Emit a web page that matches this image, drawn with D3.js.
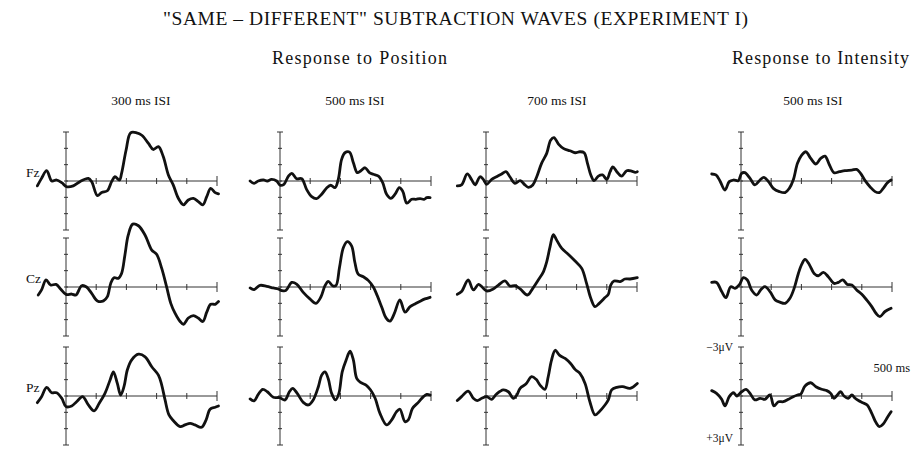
<!DOCTYPE html>
<html>
<head>
<meta charset="utf-8">
<script src="https://cdn.jsdelivr.net/npm/d3@7"></script>
<style>
  body { margin: 0; background: #fff; }
  svg { font-family: 'Liberation Serif', 'Times New Roman', serif; fill: #111; }
  .wave { fill: none; stroke: #111; stroke-width: 2.8; stroke-linejoin: round; stroke-linecap: round; }
  .ax { stroke: #333; stroke-width: 1; }
</style>
</head>
<body>
<div id="container"></div>
<script>
const rows = ['Fz', 'Cz', 'Pz'];
const cols = ['300 ms ISI', '500 ms ISI', '700 ms ISI', '500 ms ISI'];
const groups = ['Response to Position', 'Response to Intensity'];
const xTicks = [0, 100, 200, 300, 400, 500];
const yTicks = [-3, -2, -1, 0, 1, 2, 3];

// waves as [ms, uV], negative is plotted up
const fz300 = [[-95,0.3],[-81,-0.16],[-64,-0.63],[-47,0],[-31,-0.06],[-14,0.1],[2,0.35],[24,0.3],[46,0.04],[74,-0.16],[85,0.04],[104,0.9],[118,0.7],[137,0.6],[151,0.04],[162,-0.26],[177,-0.06],[184,-0.47],[199,-1.9],[214,-2.95],[234,-2.95],[251,-2.8],[273,-2.3],[289,-1.93],[306,-2.1],[322,-1.5],[339,-0.37],[355,0.24],[372,1.06],[389,1.46],[405,1.16],[422,1.06],[438,1.26],[453,1.46],[466,0.96],[479,0.45],[494,0.71],[505,0.79]];
const cz300 = [[-92,0.49],[-81,0.18],[-66,-0.43],[-51,-0.12],[-33,-0.16],[-18,0.12],[0,0.45],[19,0.43],[33,0.49],[52,-0.08],[68,0],[85,0.39],[104,0.85],[124,0.85],[137,0.59],[148,-0.22],[159,-0.57],[173,-0.53],[184,-0.83],[195,-1.95],[206,-3.17],[221,-3.85],[240,-3.75],[262,-3.17],[284,-2.26],[300,-2.0],[317,-1.14],[333,-0.02],[347,1.0],[361,1.6],[378,2.11],[389,2.28],[405,1.9],[422,1.75],[438,1.9],[453,2.11],[466,1.54],[479,1.06],[494,1.06],[505,0.89]];
const pz300 = [[-95,0.41],[-81,0.04],[-64,-0.53],[-47,-0.2],[-31,-0.2],[-14,0.14],[0,0.65],[19,0.61],[35,0.35],[55,0.04],[74,0.55],[93,0.91],[110,0.45],[129,-0.16],[146,-0.98],[157,-1.48],[170,-0.77],[181,-0.06],[192,-0.57],[203,-1.59],[217,-2.2],[240,-2.56],[262,-2.4],[284,-1.79],[306,-1.28],[317,-0.67],[328,0.24],[341,1.16],[355,1.5],[378,1.87],[394,1.77],[411,1.67],[427,1.77],[449,1.91],[464,1.46],[477,0.81],[494,0.69],[505,0.61]];

const fz500 = [[-99,0],[-86,0.14],[-72,0],[-55,-0.06],[-42,0],[-28,-0.1],[-11,0],[0,0.26],[13,0.2],[28,-0.3],[39,-0.47],[55,-0.14],[72,-0.14],[88,0.51],[105,0.96],[121,1.08],[138,0.81],[155,0.41],[168,0.26],[182,0.41],[193,-0.1],[204,-1.32],[215,-1.73],[230,-1.77],[243,-1.12],[256,-0.51],[267,-0.61],[282,-0.81],[296,-0.51],[309,-0.41],[326,-0.3],[340,0.1],[353,0.81],[367,1.06],[381,0.81],[395,0.41],[406,0.61],[420,1.36],[436,1.12],[450,1.12],[464,1.08],[477,1.12],[486,1.02],[497,1.02]];
const cz500 = [[-99,0.06],[-86,0.16],[-66,-0.1],[-44,-0.04],[-22,0.06],[-6,0.12],[6,0.22],[19,0.22],[39,-0.28],[55,-0.18],[77,0.33],[99,0.73],[119,1.0],[135,0.63],[149,-0.08],[160,-0.35],[174,-0.08],[185,-0.08],[197,-1.2],[210,-2.42],[223,-2.78],[237,-2.52],[248,-1.5],[259,-0.79],[276,-0.63],[293,-0.39],[309,0],[322,0.53],[337,1.24],[351,1.89],[364,2.09],[378,1.65],[397,0.79],[414,1.54],[431,1.2],[447,1.04],[464,0.87],[480,0.73],[497,0.63]];
const pz500 = [[-99,0.18],[-86,0.3],[-72,-0.1],[-57,-0.41],[-42,-0.26],[-22,0.08],[-2,0.1],[17,0.24],[31,-0.26],[42,-0.47],[57,-0.16],[77,0.39],[94,0.55],[110,0.24],[127,-0.57],[138,-1.28],[149,-1.48],[160,-1.04],[171,-0.16],[184,0.24],[195,-0.16],[206,-1.48],[219,-2.2],[232,-2.74],[243,-2.2],[254,-1.08],[267,-0.83],[285,-0.67],[300,-0.37],[315,0.14],[331,1.06],[353,1.77],[370,1.46],[386,0.96],[397,0.81],[414,1.57],[425,1.46],[439,0.75],[458,0.39],[475,0.04],[486,-0.1],[497,-0.06]];

const fz700 = [[-95,0.3],[-81,0.24],[-62,-0.43],[-47,-0.06],[-36,0.24],[-20,-0.26],[-9,-0.1],[2,0.2],[19,-0.1],[35,-0.26],[52,-0.43],[66,-0.57],[79,-0.26],[96,0.14],[113,-0.02],[129,0.24],[140,0.39],[155,0.24],[168,-0.26],[184,-1.08],[201,-1.69],[214,-2.5],[225,-2.66],[240,-2.26],[256,-2.0],[278,-1.85],[295,-1.73],[311,-1.79],[325,-1.73],[336,-1.08],[347,-0.37],[358,-0.02],[372,-0.3],[386,-0.37],[400,-0.1],[411,-0.57],[420,-0.87],[433,-0.57],[449,-0.3],[466,-0.63],[482,-0.61],[494,-0.53],[501,-0.57]];
const cz700 = [[-95,0.45],[-81,0.28],[-59,-0.43],[-42,0.18],[-25,-0.16],[-14,-0.02],[2,0.24],[24,0.12],[41,-0.12],[63,-0.37],[79,-0.06],[96,-0.08],[113,0.12],[137,0.49],[155,0.08],[173,-0.43],[190,-0.93],[201,-1.54],[212,-2.46],[223,-3.21],[234,-2.87],[251,-2.36],[273,-1.99],[295,-1.59],[317,-1.14],[333,-0.22],[347,0.69],[361,1.2],[375,1.0],[394,0.65],[405,0.45],[413,-0.12],[424,-0.37],[444,-0.33],[460,-0.49],[477,-0.49],[501,-0.57]];
const pz700 = [[-95,0.28],[-81,0.04],[-59,-0.3],[-42,0.14],[-29,0.28],[-14,0.14],[2,0.04],[19,0.2],[35,-0.12],[57,-0.37],[74,-0.26],[91,0.14],[102,-0.06],[113,-0.47],[132,-0.73],[151,-1.18],[166,-1.02],[179,-0.67],[195,-0.41],[206,-1.18],[217,-2.2],[229,-2.8],[243,-2.5],[262,-2.3],[280,-1.99],[295,-1.63],[311,-1.38],[328,-0.77],[344,0.35],[361,1.16],[375,0.96],[394,0.55],[405,0.24],[416,-0.37],[433,-0.53],[453,-0.57],[477,-0.47],[501,-0.77]];

const fzInt = [[-97,-0.43],[-83,-0.37],[-70,-0.02],[-53,0.55],[-39,0.04],[-25,-0.06],[-9,-0.02],[2,-0.47],[13,-0.51],[30,-0.16],[46,0.24],[63,-0.06],[76,-0.22],[91,0.04],[107,0.45],[127,0.65],[146,0.71],[160,0.45],[173,-0.06],[187,-1.08],[201,-1.59],[215,-1.79],[231,-1.38],[248,-1.04],[264,-1.38],[278,-1.52],[293,-0.98],[308,-0.51],[326,-0.57],[344,-0.63],[367,-0.67],[383,-0.71],[396,-0.47],[411,-0.02],[427,0.35],[444,0.65],[458,0.71],[471,0.45],[485,0.1],[497,-0.06]];
const czInt = [[-97,-0.28],[-81,-0.28],[-64,0.28],[-50,0.65],[-34,-0.02],[-20,0.08],[-6,-0.12],[8,-0.57],[21,-0.43],[35,0.18],[52,0.49],[65,0.18],[79,-0.02],[96,0.28],[113,0.79],[129,0.93],[146,1.0],[162,0.69],[176,0.08],[190,-0.83],[201,-1.38],[212,-1.69],[226,-1.38],[242,-0.83],[256,-0.69],[273,-0.89],[289,-0.63],[308,-0.22],[322,-0.28],[337,-0.43],[352,-0.16],[367,-0.12],[383,0.18],[400,0.45],[416,0.79],[433,1.2],[447,1.61],[460,1.81],[477,1.5],[497,1.3]];
const pzInt = [[-97,-0.33],[-81,-0.16],[-64,0.2],[-53,0.61],[-39,0.04],[-25,-0.2],[-14,0],[2,-0.26],[17,-0.41],[30,-0.16],[46,0.24],[63,0.14],[79,0.2],[96,-0.06],[109,0.61],[124,0.35],[140,0.35],[157,0.2],[173,0.04],[187,-0.06],[198,-0.12],[212,-0.61],[231,-0.81],[248,-0.57],[267,-0.41],[284,-0.33],[297,-0.16],[308,0.14],[319,-0.06],[330,-0.26],[341,0],[355,0.14],[367,-0.06],[378,0.14],[389,0.28],[403,0.41],[418,0.55],[433,1.06],[447,1.63],[458,1.87],[471,1.71],[485,1.3],[497,0.96]];

const waves = [
  [fz300, fz500, fz700, fzInt],
  [cz300, cz500, cz700, czInt],
  [pz300, pz500, pz700, pzInt]
];

// layout
const colX = [66, 280, 486, 741];
const rowY = [181, 287, 396];
const panelW = 151;
const halfH = 49;

const svg = d3.select('#container').append('svg')
  .attr('width', 917)
  .attr('height', 451);

svg.append('text')
  .attr('x', 163)
  .attr('y', 25)
  .attr('textLength', 585)
  .attr('lengthAdjust', 'spacing')
  .style('font-size', '19.5px')
  .text('"SAME \u2013 DIFFERENT" SUBTRACTION WAVES (EXPERIMENT I)');

svg.append('text')
  .attr('x', 272).attr('y', 64)
  .attr('textLength', 175)
  .attr('lengthAdjust', 'spacing')
  .style('font-size', '18px')
  .text(groups[0]);

svg.append('text')
  .attr('x', 732).attr('y', 64)
  .attr('textLength', 177)
  .attr('lengthAdjust', 'spacing')
  .style('font-size', '18px')
  .text(groups[1]);

const colLabelX = [141, 355, 557, 813];
cols.forEach((c, i) => {
  svg.append('text')
    .attr('x', colLabelX[i]).attr('y', 105)
    .attr('text-anchor', 'middle')
    .style('font-size', '13.5px')
    .text(c);
});

rows.forEach((r, i) => {
  svg.append('text')
    .attr('x', 26).attr('y', rowY[i] - 4)
    .style('font-size', '13.5px')
    .text(r);
});

const line = d3.line().curve(d3.curveCatmullRom.alpha(0.5));

rows.forEach((r, ri) => {
  cols.forEach((c, ci) => {
    const x = d3.scaleLinear().domain([0, 500]).range([colX[ci], colX[ci] + panelW]);
    const y = d3.scaleLinear().domain([-3, 3]).range([rowY[ri] - halfH, rowY[ri] + halfH]);
    const g = svg.append('g');

    // vertical axis
    g.append('line').attr('class', 'ax')
      .attr('x1', x(0)).attr('x2', x(0))
      .attr('y1', y(-3)).attr('y2', y(3));
    g.selectAll('.yt').data(yTicks).enter().append('line')
      .attr('class', 'ax')
      .attr('x1', (d) => x(0) - (Math.abs(d) === 3 ? 3 : 2))
      .attr('x2', (d) => x(0) + (Math.abs(d) === 3 ? 3 : 2))
      .attr('y1', (d) => y(d)).attr('y2', (d) => y(d));

    // baseline
    g.append('line').attr('class', 'ax')
      .attr('x1', x(0)).attr('x2', x(500))
      .attr('y1', y(0)).attr('y2', y(0));
    g.selectAll('.xt').data(xTicks.slice(1)).enter().append('line')
      .attr('class', 'ax')
      .attr('x1', (d) => x(d)).attr('x2', (d) => x(d))
      .attr('y1', (d) => y(0) - (d === 500 ? 5 : 3))
      .attr('y2', (d) => y(0) + (d === 500 ? 5 : 3));

    g.append('path')
      .attr('class', 'wave')
      .attr('d', line.x((d) => x(d[0])).y((d) => y(d[1]))(waves[ri][ci]));

    // scale labels on the last panel
    if (ri === 2 && ci === 3) {
      svg.append('text')
        .attr('x', x(0) - 8).attr('y', y(-3) + 4)
        .attr('text-anchor', 'end')
        .style('font-size', '11.5px')
        .text('\u22123\u03bcV');
      svg.append('text')
        .attr('x', x(0) - 8).attr('y', y(3) - 3)
        .attr('text-anchor', 'end')
        .style('font-size', '11.5px')
        .text('+3\u03bcV');
      svg.append('text')
        .attr('x', x(500) + 18).attr('y', y(0) - 24)
        .attr('text-anchor', 'end')
        .style('font-size', '12.5px')
        .text('500 ms');
    }
  });
});
</script>
</body>
</html>
